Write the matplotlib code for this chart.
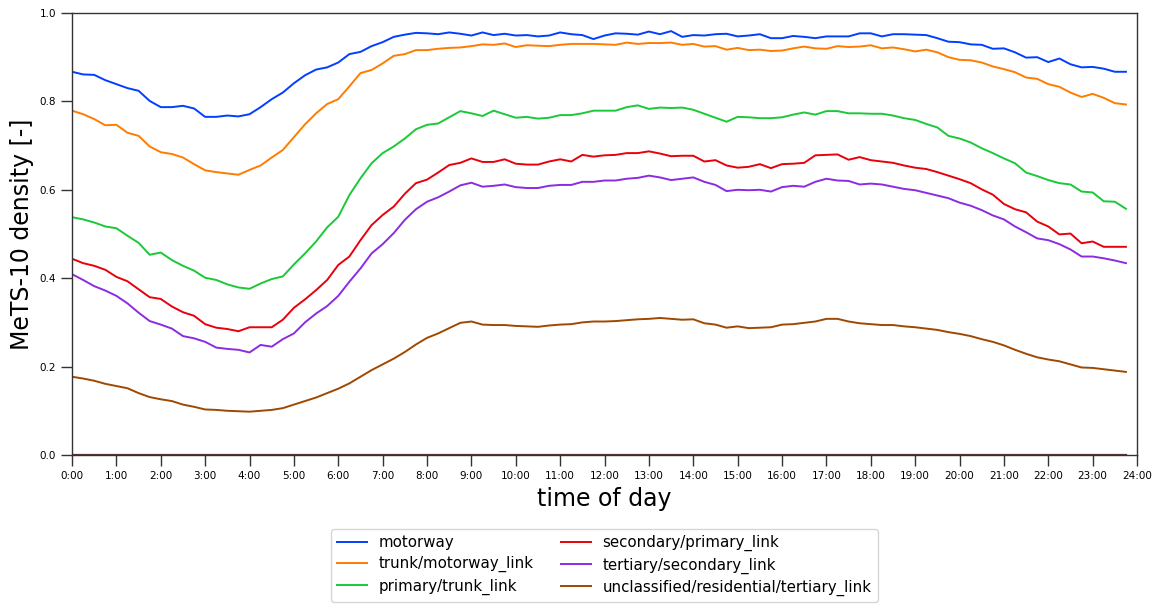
import numpy as np
import matplotlib
matplotlib.use("Agg")
import matplotlib.pyplot as plt

# 15-minute slots over one day
hours = np.arange(96) * 0.25

series_names = [
    "motorway",
    "trunk/motorway_link",
    "primary/trunk_link",
    "secondary/primary_link",
    "tertiary/secondary_link",
    "unclassified/residential/tertiary_link",
]

motorway = [
    0.867, 0.861, 0.860, 0.848, 0.839, 0.830, 0.824, 0.801, 0.787, 0.787, 0.790, 0.784, 0.765, 0.765, 0.768, 0.766,
    0.771, 0.787, 0.805, 0.820, 0.841, 0.859, 0.872, 0.877, 0.888, 0.907, 0.912, 0.925, 0.934, 0.946, 0.951, 0.955,
    0.954, 0.952, 0.956, 0.953, 0.949, 0.956, 0.950, 0.953, 0.949, 0.950, 0.947, 0.949, 0.956, 0.952, 0.950, 0.941,
    0.949, 0.954, 0.953, 0.951, 0.958, 0.952, 0.959, 0.946, 0.950, 0.949, 0.952, 0.953, 0.947, 0.949, 0.952, 0.943,
    0.943, 0.948, 0.946, 0.943, 0.947, 0.947, 0.947, 0.954, 0.954, 0.947, 0.952, 0.952, 0.951, 0.950, 0.943, 0.935,
    0.934, 0.929, 0.928, 0.919, 0.920, 0.911, 0.899, 0.900, 0.889, 0.897, 0.884, 0.877, 0.878, 0.874, 0.867, 0.867,
]

trunk = [
    0.779, 0.771, 0.760, 0.746, 0.747, 0.729, 0.722, 0.698, 0.685, 0.681, 0.673, 0.658, 0.644, 0.640, 0.637, 0.634,
    0.645, 0.655, 0.673, 0.690, 0.719, 0.748, 0.773, 0.794, 0.805, 0.834, 0.864, 0.871, 0.886, 0.903, 0.907, 0.916,
    0.916, 0.919, 0.921, 0.922, 0.925, 0.929, 0.928, 0.931, 0.923, 0.927, 0.926, 0.925, 0.928, 0.930, 0.930, 0.930,
    0.929, 0.928, 0.933, 0.930, 0.932, 0.932, 0.933, 0.928, 0.930, 0.924, 0.925, 0.917, 0.921, 0.916, 0.917, 0.914,
    0.915, 0.920, 0.924, 0.920, 0.919, 0.925, 0.923, 0.924, 0.927, 0.920, 0.922, 0.918, 0.913, 0.917, 0.911, 0.900,
    0.894, 0.893, 0.888, 0.879, 0.873, 0.866, 0.854, 0.851, 0.839, 0.833, 0.820, 0.810, 0.817, 0.808, 0.796, 0.793,
]

primary = [
    0.538, 0.533, 0.526, 0.517, 0.513, 0.496, 0.480, 0.453, 0.458, 0.441, 0.428, 0.417, 0.401, 0.396, 0.386, 0.379,
    0.376, 0.388, 0.398, 0.404, 0.431, 0.456, 0.483, 0.515, 0.539, 0.588, 0.626, 0.660, 0.683, 0.698, 0.716, 0.737,
    0.747, 0.750, 0.764, 0.778, 0.773, 0.767, 0.779, 0.771, 0.763, 0.765, 0.761, 0.763, 0.769, 0.769, 0.773, 0.779,
    0.779, 0.779, 0.787, 0.791, 0.783, 0.786, 0.785, 0.786, 0.781, 0.772, 0.763, 0.754, 0.765, 0.764, 0.762, 0.762,
    0.764, 0.770, 0.775, 0.770, 0.778, 0.778, 0.773, 0.773, 0.772, 0.772, 0.768, 0.762, 0.758, 0.749, 0.741, 0.722,
    0.716, 0.707, 0.694, 0.683, 0.671, 0.660, 0.639, 0.631, 0.622, 0.615, 0.612, 0.596, 0.594, 0.574, 0.573, 0.557,
]

secondary = [
    0.444, 0.434, 0.428, 0.419, 0.403, 0.393, 0.375, 0.357, 0.353, 0.336, 0.323, 0.315, 0.296, 0.288, 0.285, 0.280,
    0.289, 0.289, 0.289, 0.306, 0.333, 0.352, 0.373, 0.396, 0.430, 0.449, 0.486, 0.520, 0.543, 0.562, 0.591, 0.615,
    0.623, 0.639, 0.656, 0.661, 0.671, 0.663, 0.663, 0.669, 0.659, 0.657, 0.657, 0.664, 0.669, 0.664, 0.679, 0.675,
    0.678, 0.679, 0.683, 0.683, 0.687, 0.682, 0.676, 0.677, 0.677, 0.664, 0.667, 0.655, 0.650, 0.652, 0.658, 0.649,
    0.658, 0.659, 0.661, 0.678, 0.679, 0.680, 0.668, 0.674, 0.667, 0.664, 0.661, 0.655, 0.650, 0.647, 0.640, 0.632,
    0.624, 0.615, 0.601, 0.589, 0.568, 0.556, 0.549, 0.528, 0.517, 0.499, 0.501, 0.479, 0.483, 0.471, 0.471, 0.471,
]

tertiary = [
    0.409, 0.396, 0.382, 0.372, 0.360, 0.343, 0.322, 0.303, 0.295, 0.286, 0.269, 0.264, 0.256, 0.243, 0.240, 0.238,
    0.232, 0.249, 0.245, 0.262, 0.275, 0.300, 0.320, 0.337, 0.360, 0.392, 0.422, 0.456, 0.477, 0.502, 0.532, 0.556,
    0.573, 0.583, 0.596, 0.610, 0.616, 0.607, 0.609, 0.612, 0.606, 0.604, 0.604, 0.609, 0.611, 0.611, 0.618, 0.618,
    0.621, 0.621, 0.625, 0.627, 0.632, 0.628, 0.622, 0.625, 0.628, 0.618, 0.611, 0.597, 0.600, 0.599, 0.600, 0.596,
    0.606, 0.609, 0.607, 0.618, 0.625, 0.621, 0.620, 0.612, 0.614, 0.612, 0.607, 0.602, 0.599, 0.593, 0.587, 0.581,
    0.571, 0.564, 0.554, 0.542, 0.533, 0.517, 0.504, 0.490, 0.486, 0.477, 0.465, 0.449, 0.449, 0.445, 0.440, 0.434,
]

residential = [
    0.177, 0.173, 0.168, 0.161, 0.156, 0.151, 0.140, 0.131, 0.126, 0.122, 0.114, 0.109, 0.103, 0.102, 0.100, 0.099,
    0.098, 0.100, 0.102, 0.106, 0.114, 0.122, 0.130, 0.140, 0.150, 0.162, 0.177, 0.192, 0.205, 0.218, 0.233, 0.250,
    0.265, 0.275, 0.287, 0.299, 0.302, 0.295, 0.294, 0.294, 0.292, 0.291, 0.290, 0.293, 0.295, 0.296, 0.300, 0.302,
    0.302, 0.303, 0.305, 0.307, 0.308, 0.310, 0.308, 0.306, 0.307, 0.298, 0.295, 0.288, 0.291, 0.287, 0.288, 0.289,
    0.295, 0.296, 0.299, 0.302, 0.308, 0.308, 0.302, 0.298, 0.296, 0.294, 0.294, 0.291, 0.289, 0.286, 0.283, 0.278,
    0.274, 0.269, 0.262, 0.256, 0.248, 0.238, 0.229, 0.221, 0.216, 0.212, 0.205, 0.198, 0.197, 0.194, 0.191, 0.188,
]

# remaining road classes, all zero over the day
other = [0.0] * 96

colors = ["#023eff", "#ff7c00", "#1ac938", "#e8000b", "#8b2be2", "#9f4800"]
values = [motorway, trunk, primary, secondary, tertiary, residential]

hour_ticks = list(range(25))
hour_labels = [f"{h}:00" for h in hour_ticks]

fig = plt.figure(figsize=(11.58, 6.04), dpi=100)
ax = fig.add_axes([0.0622, 0.2467, 0.9197, 0.7318])

for name, vals, col in zip(series_names, values, colors):
    ax.plot(hours, vals, color=col, lw=1.4, label=name)
ax.plot(hours, other, color="#5b3636", lw=1.6, zorder=1)

ax.set_xlim(0, 24)
ax.set_ylim(0, 1.0)
ax.set_xticks(hour_ticks)
ax.set_xticklabels(hour_labels)
ax.set_yticks([0.0, 0.2, 0.4, 0.6, 0.8, 1.0])
ax.tick_params(axis="both", labelsize=7.5, length=8, width=1, color="#333333")
for sp in ax.spines.values():
    sp.set_color("#333333")
    sp.set_linewidth(1.0)

ax.set_xlabel("time of day", fontsize=17, labelpad=4)
ax.set_ylabel("MeTS-10 density [-]", fontsize=17)

ax.legend(loc="upper center", bbox_to_anchor=(0.5, -0.151), ncol=2, fontsize=10.8,
          frameon=True, handlelength=2.0, handletextpad=0.75, columnspacing=1.85,
          borderpad=0.4, labelspacing=0.4, edgecolor="#cccccc")

fig.savefig("out.png", dpi=100)
